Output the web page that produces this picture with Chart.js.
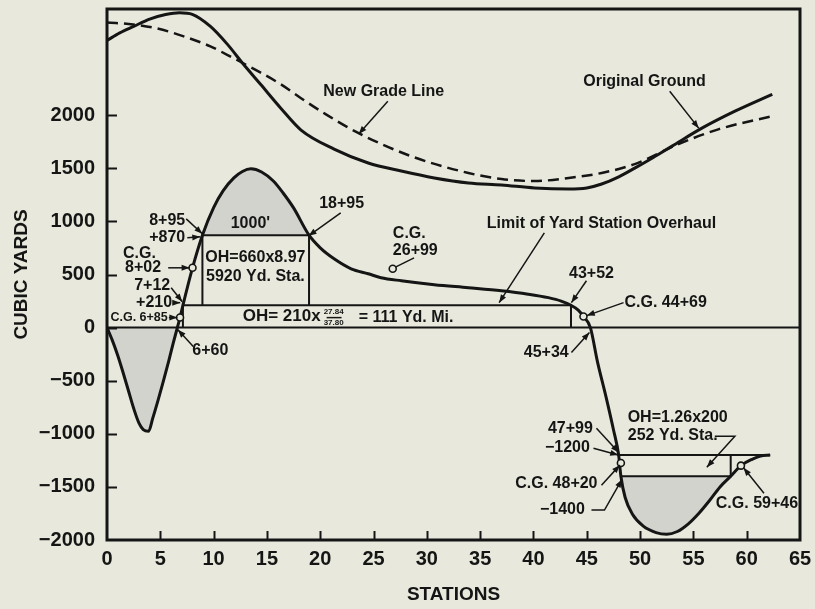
<!DOCTYPE html>
<html>
<head>
<meta charset="utf-8">
<script src="https://cdn.jsdelivr.net/npm/chart.js@4.4.0/dist/chart.umd.min.js"></script>
<style>
  html, body { margin: 0; padding: 0; background: #e8e9dc; }
  canvas { display: block; }
</style>
</head>
<body>
<canvas id="massChart" width="815" height="609"></canvas>
<script>
// mass curve (stations, cubic yards)
const massStations = [0, 0.5, 1, 1.5, 2, 2.5, 3, 3.4, 3.9, 4.3, 4.8, 5.3, 5.8, 6.2, 6.6, 6.85, 7.12, 8.02, 8.95,
  10, 10.9, 11.9, 12.7, 13.5, 14.5, 15.6, 16.5, 17.5, 18.95, 20, 21.3, 22.9, 24.5, 25.7, 27.6, 30.7, 33.9, 37,
  39.5, 41.4, 42.6, 43.52, 44.2, 44.69, 45.34, 46.0, 46.8, 47.5, 47.99, 48.2, 48.6, 49.3, 50.3, 51.5, 52.5,
  53.5, 54.5, 55.5, 56.5, 57.5, 58.5, 59.46, 60.5, 61.3, 62.2];
const massYards = [0, -120, -260, -420, -590, -760, -900, -960, -975, -850, -680, -500, -310, -150, 0, 95, 210, 563, 870,
  1130, 1290, 1410, 1470, 1495, 1465, 1380, 1270, 1127, 870, 751, 648, 554, 507, 470, 441, 404, 376, 347,
  315, 282, 250, 210, 165, 105, 0, -320, -650, -960, -1200, -1400, -1600, -1760, -1870, -1930, -1945,
  -1920, -1850, -1750, -1630, -1500, -1400, -1300, -1240, -1210, -1200];

// original ground profile
const groundStations = [0, 1.2, 2.5, 4, 5.5, 6.8, 8, 9.7, 11.3, 12.8, 14.4, 16.3, 18.2, 21.3, 24.5, 27.6, 30.7,
  33.9, 37, 40.1, 43.3, 45, 46.4, 48, 49.5, 51.2, 53, 55.8, 58.9, 62.4];
const groundYards = [2704, 2775, 2836, 2905, 2948, 2965, 2950, 2836, 2667, 2479, 2291, 2066, 1860, 1681, 1550, 1474,
  1409, 1362, 1343, 1315, 1305, 1315, 1352, 1420, 1502, 1600, 1709, 1878, 2038, 2197];

// new grade line
const gradeStations = [0, 2.45, 4.7, 7.2, 9.7, 11.9, 14.2, 16.3, 18.2, 20.5, 23.6, 28.5, 33.9, 37, 40.1, 43.3,
  46.4, 49.5, 53.6, 57.4, 62.4];
const gradeYards = [2873, 2855, 2817, 2742, 2648, 2535, 2413, 2291, 2160, 2010, 1831, 1615, 1456, 1399, 1380, 1409,
  1456, 1540, 1728, 1869, 1991];

// centres of gravity
const cgStations = [6.85, 8.02, 26.8, 44.69, 48.2, 59.46];
const cgYards = [95, 563, 554, 105, -1275, -1300];

// balance lines / overhaul boxes
const guideLines = [
  [[0, 0], [65, 0]],
  [[8.95, 870], [18.95, 870]],
  [[8.95, 870], [8.95, 210]],
  [[18.95, 870], [18.95, 210]],
  [[7.12, 0], [7.12, 210], [43.52, 210], [43.52, 0]],
  [[47.99, -1200], [62.2, -1200]],
  [[48.2, -1400], [58.5, -1400], [58.5, -1200]]
];

// shaded loops: [from station, to station, base line]
const shadedLoops = [[0, 6.6, 0], [8.95, 18.95, 870], [48.2, 58.5, -1400]];

const yLabelValues = [-2000, -1500, -1000, -500, 0, 500, 1000, 1500, 2000];

const ink = '#151515';
const paper = '#e8e9dc';
const shade = '#d2d3cd';
const fontFamily = '"Liberation Sans", Arial, sans-serif';

function pts(xs, ys) {
  return xs.map(function(x, i) { return {x: x, y: ys[i]}; });
}
function part(xs, ys, from, to) {
  return pts(xs, ys).filter(function(p) { return p.x >= from && p.x <= to; });
}

//labels, in chart units
const notes = [
  {text: 'New Grade Line', x: 25.96, y: 2225},
  {text: 'Original Ground', x: 50.42, y: 2319},
  {text: 'Limit of Yard Station Overhaul', x: 46.38, y: 977},
  {text: '18+95', x: 22.01, y: 1164},
  {text: "1000'", x: 13.45, y: 977},
  {text: '8+95', x: 7.34, y: 1005, align: 'right'},
  {text: '+870', x: 7.34, y: 845, align: 'right'},
  {text: 'C.G.', x: 1.5, y: 695, align: 'left'},
  {text: '8+02', x: 1.69, y: 563, align: 'left'},
  {text: '7+12', x: 5.93, y: 394, align: 'right'},
  {text: '+210', x: 6.11, y: 235, align: 'right'},
  {text: 'C.G. 6+85', x: 5.7, y: 94, align: 'right', size: 12.5},
  {text: 'OH=660x8.97', x: 13.92, y: 657},
  {text: '5920 Yd. Sta.', x: 13.92, y: 479},
  {text: '6+60', x: 9.69, y: -216},
  {text: 'OH= 210x', x: 20.04, y: 103, align: 'right', size: 17},
  {text: '27.84', x: 21.26, y: 150, size: 8},
  {text: '37.80', x: 21.26, y: 42, size: 8},
  {text: '= 111 Yd. Mi.', x: 23.61, y: 94, align: 'left'},
  {text: 'C.G.', x: 26.81, y: 883, align: 'left'},
  {text: '26+99', x: 26.81, y: 723, align: 'left'},
  {text: '43+52', x: 45.44, y: 507},
  {text: 'C.G. 44+69', x: 48.54, y: 235, align: 'left'},
  {text: '45+34', x: 41.2, y: -235},
  {text: 'OH=1.26x200', x: 53.53, y: -845},
  {text: '252 Yd. Sta.', x: 53.06, y: -1014},
  {text: '47+99', x: 43.46, y: -948},
  {text: '\u22121200', x: 43.18, y: -1127},
  {text: 'C.G. 48+20', x: 42.15, y: -1465},
  {text: '\u22121400', x: 42.71, y: -1718},
  {text: 'C.G. 59+46', x: 60.96, y: -1653}
];

// leader lines, arrow head at the last point
const leaders = [
  {path: [[26.34, 2132], [23.61, 1822]]},
  {path: [[52.78, 2225], [55.5, 1878]]},
  {path: [[41.02, 892], [36.78, 235]]},
  {path: [[21.92, 1080], [18.91, 864]]},
  {path: [[7.43, 1024], [8.94, 883]]},
  {path: [[7.53, 845], [8.75, 855]]},
  {path: [[5.74, 563], [7.75, 563]]},
  {path: [[6.02, 376], [7.06, 244]]},
  {path: [[6.2, 235], [6.87, 235]]},
  {path: [[5.8, 94], [6.6, 94]]},
  {path: [[8.09, -178], [6.65, -20]]},
  {path: [[20.6, 94], [22.0, 94]], head: false},
  {path: [[28.8, 657], [27.05, 570]], head: false},
  {path: [[44.97, 441], [43.56, 235]]},
  {path: [[48.45, 235], [45.0, 113]]},
  {path: [[43.56, -235], [45.25, -47]]},
  {path: [[57.01, -1024], [58.89, -1024], [56.26, -1315]]},
  {path: [[45.91, -948], [48.0, -1175]]},
  {path: [[45.63, -1136], [47.95, -1200]]},
  {path: [[46.38, -1484], [48.1, -1295]]},
  {path: [[45.44, -1718], [46.66, -1718], [48.3, -1430]]},
  {path: [[61.62, -1559], [59.7, -1320]]}
];

const datasets = [];

shadedLoops.forEach(function(loop) {
  datasets.push({
    data: part(massStations, massYards, loop[0], loop[1]),
    borderWidth: 0,
    backgroundColor: shade,
    fill: {value: loop[2]},
    cubicInterpolationMode: 'monotone',
    pointRadius: 0,
    order: 10
  });
});

guideLines.forEach(function(line) {
  datasets.push({
    data: line.map(function(p) { return {x: p[0], y: p[1]}; }),
    borderColor: ink,
    borderWidth: 2,
    tension: 0,
    pointRadius: 0,
    fill: false,
    order: 5
  });
});

datasets.push({
  label: 'Original Ground',
  data: pts(groundStations, groundYards),
  borderColor: ink,
  borderWidth: 3,
  cubicInterpolationMode: 'monotone',
  pointRadius: 0,
  fill: false,
  order: 2
});
datasets.push({
  label: 'New Grade Line',
  data: pts(gradeStations, gradeYards),
  borderColor: ink,
  borderWidth: 2.5,
  borderDash: [11, 6],
  cubicInterpolationMode: 'monotone',
  pointRadius: 0,
  fill: false,
  order: 2
});
datasets.push({
  label: 'Mass curve',
  data: pts(massStations, massYards),
  borderColor: ink,
  borderWidth: 3,
  cubicInterpolationMode: 'monotone',
  pointRadius: 0,
  fill: false,
  order: 1
});
datasets.push({
  label: 'C.G.',
  data: pts(cgStations, cgYards),
  showLine: false,
  pointRadius: 3.5,
  pointBorderWidth: 1.6,
  pointBorderColor: ink,
  pointBackgroundColor: paper,
  order: 0
});

const framePlugin = {
  id: 'frame',
  beforeDraw: function(chart) {
    const ctx = chart.ctx;
    ctx.save();
    ctx.fillStyle = paper;
    ctx.fillRect(0, 0, chart.width, chart.height);
    ctx.restore();
  },
  afterDatasetsDraw: function(chart) {
    const ctx = chart.ctx;
    const a = chart.chartArea;
    const xs = chart.scales.x, ys = chart.scales.y;
    ctx.save();
    ctx.strokeStyle = ink;
    ctx.lineWidth = 2;
    ys.ticks.forEach(function(t) {
      if (yLabelValues.indexOf(t.value) < 0 || t.value === -2000) return;
      const py = Math.round(ys.getPixelForValue(t.value)) + 0.5;
      ctx.beginPath(); ctx.moveTo(a.left, py); ctx.lineTo(a.left + 10, py); ctx.stroke();
    });
    xs.ticks.forEach(function(t) {
      if (t.value === 0 || t.value === 65) return;
      const px = Math.round(xs.getPixelForValue(t.value)) + 0.5;
      ctx.beginPath(); ctx.moveTo(px, a.bottom); ctx.lineTo(px, a.bottom - 9); ctx.stroke();
    });
    ctx.lineWidth = 3;
    ctx.strokeRect(a.left, a.top, a.right - a.left, a.bottom - a.top);
    ctx.restore();
  },
  afterDraw: function(chart) {
    const ctx = chart.ctx;
    const xs = chart.scales.x, ys = chart.scales.y;
    ctx.save();
    ctx.fillStyle = ink;
    ctx.strokeStyle = ink;
    ctx.lineWidth = 1.5;
    leaders.forEach(function(l) {
      const p = l.path.map(function(q) { return [xs.getPixelForValue(q[0]), ys.getPixelForValue(q[1])]; });
      ctx.beginPath();
      ctx.moveTo(p[0][0], p[0][1]);
      for (let i = 1; i < p.length; i++) ctx.lineTo(p[i][0], p[i][1]);
      ctx.stroke();
      if (l.head === false) return;
      const tip = p[p.length - 1], prev = p[p.length - 2];
      const ang = Math.atan2(tip[1] - prev[1], tip[0] - prev[0]);
      ctx.beginPath();
      ctx.moveTo(tip[0], tip[1]);
      ctx.lineTo(tip[0] - 8 * Math.cos(ang) + 3 * Math.sin(ang), tip[1] - 8 * Math.sin(ang) - 3 * Math.cos(ang));
      ctx.lineTo(tip[0] - 8 * Math.cos(ang) - 3 * Math.sin(ang), tip[1] - 8 * Math.sin(ang) + 3 * Math.cos(ang));
      ctx.closePath();
      ctx.fill();
    });
    ctx.textBaseline = 'middle';
    notes.forEach(function(n) {
      ctx.font = 'bold ' + (n.size || 16) + 'px ' + fontFamily;
      ctx.textAlign = n.align || 'center';
      ctx.fillText(n.text, xs.getPixelForValue(n.x), ys.getPixelForValue(n.y));
    });
    ctx.restore();
  }
};

const tickFont = {family: fontFamily, weight: 'bold', size: 20};
const titleFont = {family: fontFamily, weight: 'bold', size: 19};

new Chart(document.getElementById('massChart'), {
  type: 'line',
  data: {datasets: datasets},
  options: {
    responsive: false,
    animation: false,
    events: [],
    layout: {padding: {top: 9, right: 15, left: 0, bottom: 0}},
    plugins: {
      legend: {display: false},
      tooltip: {enabled: false}
    },
    scales: {
      x: {
        type: 'linear',
        min: 0,
        max: 65,
        afterFit: function(s) { s.height = 69; s.paddingLeft = 0; s.paddingRight = 0; },
        grid: {display: false, drawTicks: false},
        border: {display: false},
        ticks: {stepSize: 5, padding: 7, color: ink, font: tickFont, maxRotation: 0, autoSkip: false},
        title: {display: true, text: 'STATIONS', color: ink, font: titleFont, padding: {top: 0, bottom: 3}}
      },
      y: {
        type: 'linear',
        min: -2000,
        max: 3000,
        afterFit: function(s) { s.width = 107; s.paddingTop = 0; s.paddingBottom = 0; },
        grid: {display: false, drawTicks: false},
        border: {display: false},
        ticks: {
          stepSize: 500,
          padding: 12,
          color: ink,
          font: tickFont,
          autoSkip: false,
          callback: function(v) {
            if (yLabelValues.indexOf(v) < 0) return '';
            return v < 0 ? '\u2212' + Math.abs(v) : String(v);
          }
        },
        title: {display: true, text: 'CUBIC YARDS', color: ink, font: titleFont, padding: {top: 10, bottom: 0}}
      }
    }
  },
  plugins: [framePlugin]
});
</script>
</body>
</html>
